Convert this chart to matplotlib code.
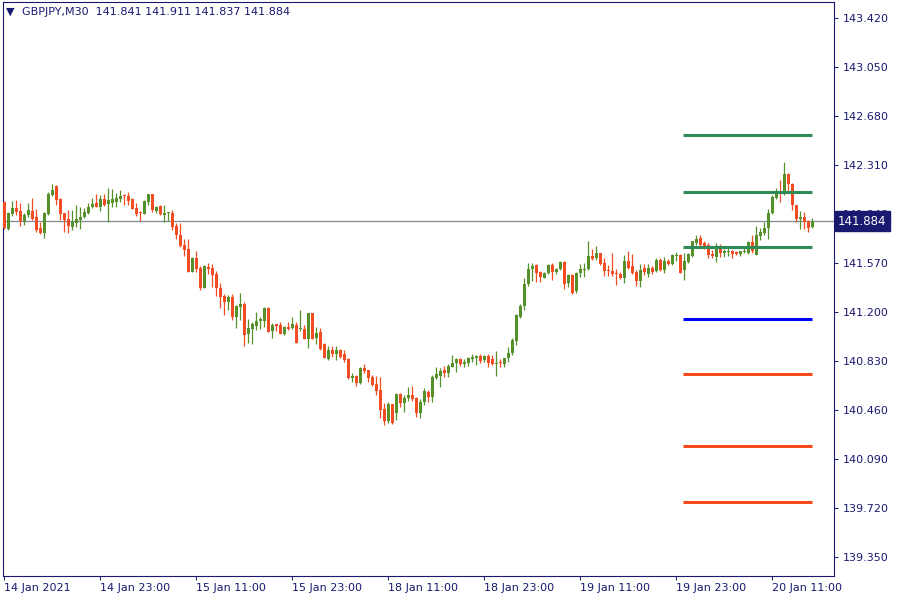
import matplotlib
matplotlib.use("Agg")
import matplotlib.pyplot as plt
import numpy as np

# GBPJPY M30 candles, 14 Jan 11:00 -> 20 Jan 16:00
opens = [142.030, 141.826, 141.940, 141.985, 141.962, 141.887, 141.932, 141.962, 141.917, 141.834,
         141.796, 141.940, 142.083, 142.151, 142.053, 141.947, 141.902, 141.842, 141.872, 141.894,
         141.917, 141.947, 141.992, 142.023, 141.992, 142.053, 142.015, 142.023, 142.030, 142.053,
         142.079, 142.076, 142.053, 141.985, 141.955, 141.940, 142.030, 142.091, 141.962, 142.000,
         141.932, 141.946, 141.947, 141.849, 141.781, 141.706, 141.675, 141.502, 141.607, 141.532,
         141.381, 141.539, 141.532, 141.487, 141.381, 141.321, 141.275, 141.313, 141.162, 141.238,
         141.260, 141.034, 141.071, 141.094, 141.132, 141.132, 141.230, 141.056, 141.109, 141.102,
         141.034, 141.087, 141.079, 141.102, 141.071, 141.071, 140.996, 141.192, 141.003, 141.049,
         140.958, 140.845, 140.913, 140.883, 140.913, 140.883, 140.845, 140.701, 140.716, 140.664,
         140.777, 140.762, 140.709, 140.656, 140.611, 140.467, 140.377, 140.505, 140.437, 140.580,
         140.513, 140.550, 140.573, 140.550, 140.437, 140.520, 140.596, 140.558, 140.701, 140.716,
         140.762, 140.739, 140.784, 140.815, 140.845, 140.807, 140.815, 140.845, 140.852, 140.868,
         140.837, 140.868, 140.845, 140.807, 140.817, 140.807, 140.852, 140.890, 140.981, 141.162,
         141.245, 141.411, 141.524, 141.555, 141.502, 141.456, 141.494, 141.555, 141.502, 141.524,
         141.577, 141.419, 141.479, 141.358, 141.494, 141.517, 141.524, 141.623, 141.607, 141.645,
         141.570, 141.517, 141.509, 141.494, 141.487, 141.456, 141.585, 141.547, 141.502, 141.434,
         141.532, 141.487, 141.532, 141.509, 141.592, 141.517, 141.585, 141.562, 141.623, 141.630,
         141.517, 141.577, 141.623, 141.721, 141.758, 141.721, 141.706, 141.638, 141.615, 141.683,
         141.645, 141.650, 141.660, 141.653, 141.638, 141.653, 141.645, 141.728, 141.630, 141.773,
         141.796, 141.834, 141.947, 142.060, 142.096, 142.091, 142.242, 142.166, 142.008, 141.902,
         141.917, 141.887, 141.841]
highs = [142.038, 141.951, 142.038, 142.045, 142.023, 141.947, 142.023, 142.060, 141.977, 141.879,
         141.951, 142.102, 142.166, 142.155, 142.060, 141.950, 141.970, 141.970, 142.008, 141.992,
         141.985, 142.023, 142.060, 142.091, 142.083, 142.091, 142.136, 142.128, 142.098, 142.121,
         142.091, 142.106, 142.060, 142.023, 141.962, 142.045, 142.094, 142.094, 142.000, 142.008,
         142.008, 141.957, 141.970, 141.872, 141.872, 141.751, 141.751, 141.617, 141.660, 141.547,
         141.551, 141.570, 141.562, 141.509, 141.419, 141.336, 141.328, 141.336, 141.253, 141.343,
         141.275, 141.147, 141.124, 141.200, 141.162, 141.238, 141.234, 141.117, 141.110, 141.124,
         141.094, 141.124, 141.162, 141.124, 141.215, 141.102, 141.194, 141.194, 141.087, 141.079,
         140.966, 140.943, 140.943, 140.943, 140.920, 140.913, 140.849, 140.739, 140.724, 140.784,
         140.807, 140.763, 140.724, 140.716, 140.709, 140.513, 140.520, 140.507, 140.588, 140.588,
         140.573, 140.633, 140.641, 140.558, 140.543, 140.626, 140.611, 140.724, 140.784, 140.777,
         140.792, 140.807, 140.875, 140.852, 140.852, 140.845, 140.860, 140.883, 140.875, 140.883,
         140.875, 140.883, 140.875, 140.905, 140.845, 140.853, 140.935, 141.003, 141.185, 141.260,
         141.456, 141.570, 141.570, 141.562, 141.509, 141.498, 141.562, 141.570, 141.532, 141.585,
         141.581, 141.487, 141.487, 141.502, 141.562, 141.570, 141.736, 141.675, 141.698, 141.647,
         141.607, 141.555, 141.645, 141.524, 141.502, 141.630, 141.660, 141.638, 141.517, 141.562,
         141.562, 141.562, 141.547, 141.607, 141.607, 141.615, 141.600, 141.634, 141.653, 141.634,
         141.645, 141.645, 141.738, 141.781, 141.781, 141.736, 141.721, 141.668, 141.721, 141.713,
         141.675, 141.683, 141.668, 141.663, 141.663, 141.683, 141.736, 141.781, 141.849, 141.834,
         141.879, 141.977, 142.083, 142.136, 142.196, 142.333, 142.250, 142.174, 142.010, 141.962,
         141.955, 141.894, 141.911]
lows = [141.826, 141.819, 141.925, 141.932, 141.849, 141.857, 141.917, 141.894, 141.804, 141.792,
        141.758, 141.932, 142.076, 142.008, 141.894, 141.804, 141.796, 141.819, 141.842, 141.826,
        141.910, 141.940, 141.985, 141.989, 141.962, 142.000, 141.879, 141.992, 141.992, 142.030,
        142.008, 142.008, 141.974, 141.925, 141.887, 141.936, 142.008, 141.955, 141.947, 141.932,
        141.879, 141.889, 141.819, 141.751, 141.690, 141.623, 141.500, 141.500, 141.500, 141.366,
        141.378, 141.487, 141.389, 141.321, 141.230, 141.177, 141.215, 141.139, 141.079, 141.139,
        140.943, 140.966, 140.958, 141.064, 141.071, 141.087, 141.047, 141.003, 141.056, 141.032,
        141.026, 141.064, 141.071, 140.964, 141.056, 140.994, 140.928, 140.994, 140.958, 140.913,
        140.851, 140.837, 140.860, 140.837, 140.853, 140.822, 140.694, 140.671, 140.641, 140.656,
        140.739, 140.671, 140.641, 140.573, 140.400, 140.347, 140.362, 140.354, 140.384, 140.482,
        140.444, 140.528, 140.528, 140.407, 140.400, 140.497, 140.520, 140.520, 140.694, 140.633,
        140.709, 140.709, 140.782, 140.747, 140.792, 140.784, 140.792, 140.822, 140.800, 140.815,
        140.822, 140.784, 140.800, 140.716, 140.784, 140.784, 140.822, 140.875, 140.951, 141.154,
        141.215, 141.396, 141.434, 141.426, 141.426, 141.453, 141.487, 141.441, 141.487, 141.517,
        141.374, 141.389, 141.336, 141.343, 141.464, 141.464, 141.517, 141.592, 141.592, 141.555,
        141.472, 141.472, 141.472, 141.404, 141.449, 141.419, 141.524, 141.487, 141.396, 141.389,
        141.479, 141.464, 141.487, 141.502, 141.509, 141.494, 141.555, 141.555, 141.585, 141.492,
        141.441, 141.570, 141.615, 141.706, 141.683, 141.675, 141.607, 141.607, 141.577, 141.615,
        141.615, 141.623, 141.607, 141.628, 141.623, 141.645, 141.638, 141.645, 141.628, 141.743,
        141.781, 141.751, 141.940, 142.053, 142.030, 142.083, 142.106, 141.970, 141.879, 141.826,
        141.826, 141.804, 141.837]
closes = [141.834, 141.947, 141.985, 141.955, 141.887, 141.932, 141.970, 141.902, 141.819, 141.796,
          141.947, 142.091, 142.121, 142.045, 141.940, 141.894, 141.849, 141.879, 141.902, 141.917,
          141.955, 141.992, 142.015, 141.992, 142.053, 142.008, 142.045, 142.053, 142.060, 142.076,
          142.072, 142.038, 141.977, 141.940, 141.944, 142.038, 142.091, 141.970, 141.992, 141.940,
          141.947, 141.947, 141.842, 141.781, 141.698, 141.668, 141.502, 141.607, 141.524, 141.381,
          141.547, 141.524, 141.479, 141.381, 141.313, 141.275, 141.313, 141.162, 141.245, 141.260,
          141.026, 141.079, 141.109, 141.132, 141.147, 141.230, 141.049, 141.102, 141.094, 141.034,
          141.087, 141.071, 141.109, 140.966, 141.079, 140.996, 141.192, 140.996, 141.041, 140.920,
          140.853, 140.913, 140.883, 140.913, 140.860, 140.837, 140.701, 140.716, 140.664, 140.777,
          140.754, 140.701, 140.649, 140.603, 140.460, 140.377, 140.505, 140.362, 140.580, 140.513,
          140.550, 140.573, 140.543, 140.437, 140.520, 140.603, 140.558, 140.709, 140.731, 140.754,
          140.739, 140.792, 140.815, 140.845, 140.807, 140.822, 140.852, 140.860, 140.868, 140.830,
          140.868, 140.815, 140.807, 140.815, 140.813, 140.852, 140.890, 140.988, 141.177, 141.245,
          141.411, 141.524, 141.547, 141.494, 141.464, 141.494, 141.555, 141.502, 141.524, 141.577,
          141.411, 141.479, 141.343, 141.494, 141.524, 141.524, 141.623, 141.600, 141.645, 141.562,
          141.509, 141.509, 141.487, 141.487, 141.456, 141.585, 141.532, 141.494, 141.434, 141.517,
          141.502, 141.532, 141.502, 141.592, 141.517, 141.585, 141.562, 141.630, 141.630, 141.494,
          141.585, 141.638, 141.736, 141.751, 141.706, 141.698, 141.630, 141.623, 141.683, 141.645,
          141.660, 141.658, 141.638, 141.638, 141.660, 141.660, 141.728, 141.660, 141.781, 141.804,
          141.834, 141.947, 142.068, 142.098, 142.088, 142.242, 142.166, 142.008, 141.902, 141.917,
          141.879, 141.834, 141.884]

time_labels = ['14 Jan 2021', '14 Jan 23:00', '15 Jan 11:00', '15 Jan 23:00', '18 Jan 11:00',
               '18 Jan 23:00', '19 Jan 11:00', '19 Jan 23:00', '20 Jan 11:00']
label_bars = [0, 24, 48, 72, 96, 120, 144, 168, 192]
day_start_bar = 170  # 20 Jan 00:00, pivot lines start here

pivot_levels = [142.536, 142.104, 141.688, 141.147, 140.731, 140.188, 139.764]
pivot_colors = ['#2e8b57', '#2e8b57', '#2e8b57', '#0000ff', '#f24a1d', '#f24a1d', '#f24a1d']

y_ticks = [139.35, 139.72, 140.09, 140.46, 140.83, 141.20, 141.57, 141.94, 142.31, 142.68, 143.05, 143.42]

NAVY = '#191970'
BULL = '#56902b'
BEAR = '#f24c24'

o = np.array(opens); h = np.array(highs); l = np.array(lows); c = np.array(closes)
x = np.arange(len(o))
up = c >= o
cols = np.where(up, BULL, BEAR)

fig = plt.figure(figsize=(9, 6), dpi=100)
ax = fig.add_axes([3/900, 24/600, 831/900, 574/600])

# wicks and bodies
ax.vlines(x, l, h, colors=cols, linewidth=0.9, zorder=2)
body_h = np.maximum(np.abs(c - o), 0.008)
ax.bar(x, body_h, bottom=np.minimum(o, c), width=0.75, color=cols, linewidth=0, zorder=3)

# pivot levels for the current day
for lvl, col in zip(pivot_levels, pivot_colors):
    ax.hlines(lvl, day_start_bar - 0.2, len(o) - 0.9, colors=col, linewidth=2.2, zorder=4)

# bid line
last = closes[-1]
ax.axhline(last, color='#7f8791', linewidth=0.9, zorder=1)

ax.set_xlim(-0.3, 207.5)
ax.set_ylim(139.205, 143.541)

ax.yaxis.tick_right()
ax.set_yticks(y_ticks)
ax.set_yticklabels([f'{v:.3f}' for v in y_ticks])
ax.set_xticks(label_bars)
ax.set_xticklabels(time_labels, ha='left')
ax.tick_params(axis='y', direction='out', length=3, width=0.7, pad=3,
               colors=NAVY, labelsize=8)
ax.tick_params(axis='x', direction='out', length=3, width=0.7, pad=2,
               colors=NAVY, labelsize=8)
for sp in ax.spines.values():
    sp.set_color(NAVY)
    sp.set_linewidth(0.8)

# current price tag (covers the 141.940 label, as in the terminal)
ax.annotate(f'{last:.3f}', xy=(1.0, last), xycoords=('axes fraction', 'data'),
            xytext=(3, 0), textcoords='offset points', va='center', ha='left',
            fontsize=8.5, color='white', annotation_clip=False, zorder=10,
            bbox=dict(boxstyle='square,pad=0.3', fc=NAVY, ec=NAVY))

# header
fig.text(6/900, 1 - 12/600, '\u25bc', fontsize=8, color=NAVY, va='center', ha='left')
fig.text(22/900, 1 - 12/600,
         f'GBPJPY,M30  {opens[-1]:.3f} {highs[-1]:.3f} {lows[-1]:.3f} {closes[-1]:.3f}',
         fontsize=8, color=NAVY, va='center', ha='left')

fig.savefig('out.png', dpi=100, facecolor='white')
